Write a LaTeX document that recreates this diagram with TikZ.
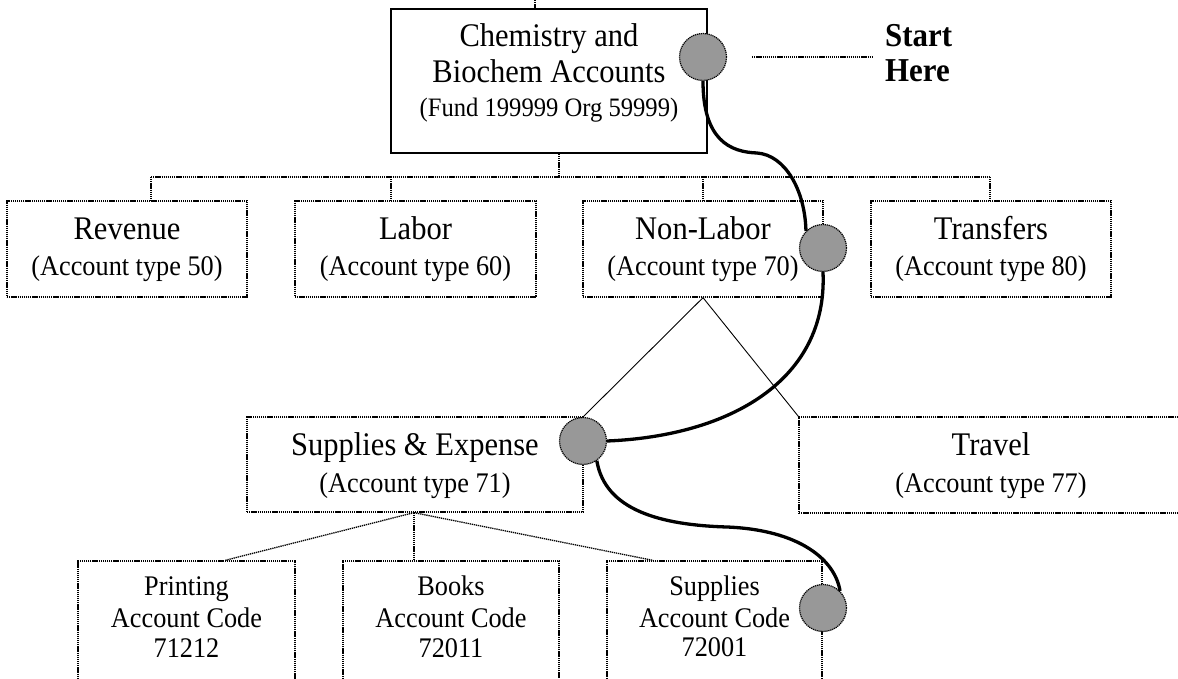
\documentclass[tikz,border=0pt]{standalone}
\usepackage{fontspec}
\setmainfont{Liberation Serif}[FakeStretch=0.925]
\definecolor{circgray}{RGB}{152,152,152}
\begin{document}
\begin{tikzpicture}[x=1pt,y=-1pt,
  dotbox/.style={draw, dash pattern=on 1.3pt off 0.8pt, line width=1.3pt, inner sep=0pt},
  solidbox/.style={draw, line width=1.8pt, inner sep=0pt},
  link/.style={dash pattern=on 1.3pt off 0.8pt, line width=1.3pt},
  thinlink/.style={line width=0.9pt},
  trail/.style={line width=3.3pt},
  spot/.style={circle, fill=circgray, draw=black, dash pattern=on 1.2pt off 0.8pt, line width=1.2pt, minimum size=47pt, inner sep=0pt},
  bigtxt/.style={font=\fontsize{33}{38}\selectfont, inner sep=0pt, anchor=base},
  midtxt/.style={font=\fontsize{28.4}{33}\selectfont, inner sep=0pt, anchor=base},
  fundtxt/.style={font=\fontsize{26.6}{31}\selectfont, inner sep=0pt, anchor=base},
  boldtxt/.style={font=\fontsize{33.4}{38}\selectfont\bfseries, inner sep=0pt, anchor=base west}]
\clip (0,0) rectangle (1178,679);
\fill[white] (0,0) rectangle (1178,679);

% boxes
\node[solidbox, minimum width=316pt, minimum height=144pt] (top) at (549,81) {};
\node[dotbox, minimum width=240pt, minimum height=96pt] (rev) at (127,249) {};
\node[dotbox, minimum width=241pt, minimum height=96pt] (lab) at (415.5,249) {};
\node[dotbox, minimum width=240pt, minimum height=96pt] (non) at (703,249) {};
\node[dotbox, minimum width=240pt, minimum height=96pt] (tra) at (991,249) {};
\node[dotbox, minimum width=336pt, minimum height=95pt] (sae) at (415,464.5) {};
\node[dotbox, minimum width=384pt, minimum height=96pt] (trv) at (991,465) {};
\node[dotbox, minimum width=217pt, minimum height=159pt] (prn) at (186.5,640.5) {};
\node[dotbox, minimum width=216pt, minimum height=159pt] (bks) at (451,640.5) {};
\node[dotbox, minimum width=215pt, minimum height=159pt] (sup) at (714.5,640.5) {};

% texts
\node[bigtxt] (topA) at (549,47) {Chemistry and};
\node[bigtxt] (topB) at (549,83) {Biochem Accounts};
\node[fundtxt] (topC) at (549,117) {(Fund 199999 Org 59999)};
\node[boldtxt] (startA) at (885,47) {Start};
\node[boldtxt] (startB) at (885,82) {Here};

\node[bigtxt] (revA) at (127,240) {Revenue};
\node[midtxt] (revB) at (127,275) {(Account type 50)};
\node[bigtxt] (labA) at (415.5,240) {Labor};
\node[midtxt] (labB) at (415.5,275) {(Account type 60)};
\node[bigtxt] (nonA) at (703,240) {Non-Labor};
\node[midtxt] (nonB) at (703,275) {(Account type 70)};
\node[bigtxt] (traA) at (991,240) {Transfers};
\node[midtxt] (traB) at (991,275) {(Account type 80)};

\node[bigtxt] (saeA) at (415,455) {Supplies \& Expense};
\node[midtxt] (saeB) at (415,492) {(Account type 71)};
\node[bigtxt] (trvA) at (991,455) {Travel};
\node[midtxt] (trvB) at (991,492) {(Account type 77)};

\node[midtxt] (prnA) at (186.5,595) {Printing};
\node[midtxt] (prnB) at (186.5,627) {Account Code};
\node[midtxt] (prnC) at (186.5,657) {71212};
\node[midtxt] (bksA) at (451,595) {Books};
\node[midtxt] (bksB) at (451,627) {Account Code};
\node[midtxt] (bksC) at (451,657) {72011};
\node[midtxt] (supA) at (714.5,595) {Supplies};
\node[midtxt] (supB) at (714.5,627) {Account Code};
\node[midtxt] (supC) at (714.5,656) {72001};

% tree connectors
\coordinate (above) at (535,-2);
\coordinate (busL) at (151,177);
\coordinate (busR) at (990,177);
\draw[link] (above) -- ([xshift=-14pt]top.north);
\draw[link] ([xshift=10pt]top.south) -- ([xshift=10pt]top.south |- busL);
\draw[link] (busL) -- (busR);
\draw[link] (busL) -- ([xshift=24pt]rev.north);
\draw[link] (busL -| lab.north) ++(-24.5,0) -- ([xshift=-24.5pt]lab.north);
\draw[link] (busL -| non.north) -- (non.north);
\draw[link] (busR) -- ([xshift=-1pt]tra.north);
\draw[thinlink] (non.south) -- (sae.north east);
\draw[thinlink] (non.south) -- (trv.north west);
\draw[link] ([xshift=-1pt]sae.south) -- ([xshift=38.5pt]prn.north);
\draw[link] ([xshift=-1pt]sae.south) -- ([xshift=-37pt]bks.north);
\draw[link] ([xshift=-1pt]sae.south) -- ([xshift=-61.5pt]sup.north);

% start here
\coordinate (hereL) at (752,57);
\coordinate (hereR) at (872,57);
\draw[link] (hereL) -- (hereR);

% spots
\node[spot] (s1) at (703,57) {};
\node[spot] (s2) at (823,248) {};
\node[spot] (s3) at (583,441) {};
\node[spot] (s4) at (823,608) {};

% trail
\draw[trail] (s1.south) .. controls (703,140) and (730,152) .. (757,153)
  .. controls (785,155) and (805,190) .. (s2.135);
\draw[trail] (s2.south) .. controls (828,380) and (730,436) .. (s3.east);
\draw[trail] (s3.-55) .. controls (605,510) and (660,525) .. (727,527)
  .. controls (800,530) and (835,560) .. (s4.45);
\end{tikzpicture}
\end{document}
